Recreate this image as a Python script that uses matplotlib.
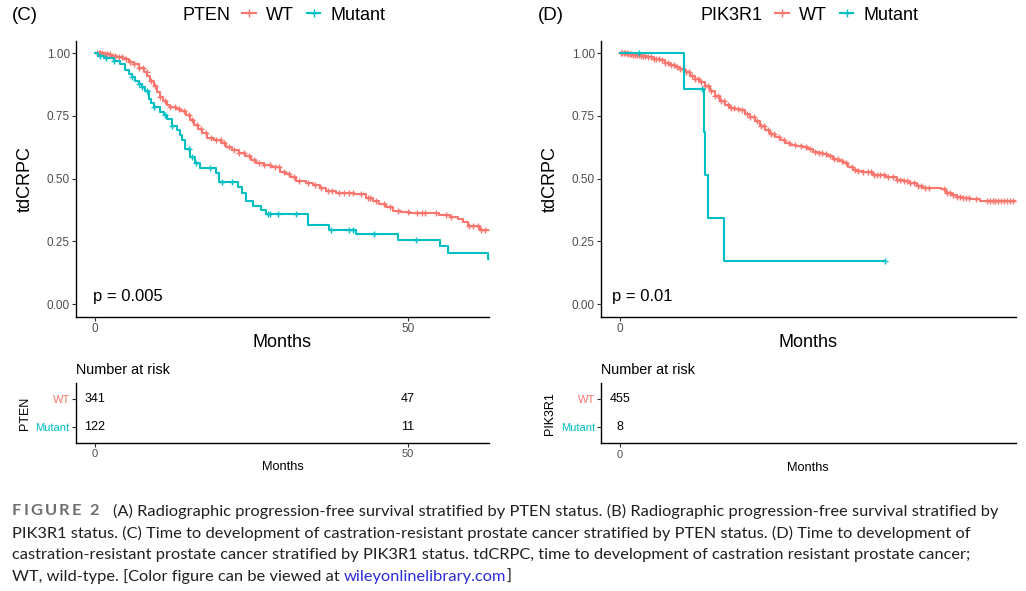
import numpy as np
import matplotlib
matplotlib.use('Agg')
import matplotlib.pyplot as plt
from matplotlib.lines import Line2D

plt.rcParams['font.family'] = ['Liberation Sans', 'DejaVu Sans']

RED = '#F8766D'
TEAL = '#00BFC4'

# ---------------- panel C : PTEN ----------------
c_wt_time = [0, 1.5, 2.5, 3.5, 4.5, 5.5, 6.2, 7.0, 7.8, 8.4, 8.9, 9.4, 9.9, 10.4, 10.9,
             11.5, 12.0, 13.0, 13.8, 14.5, 15.2, 15.8, 16.5, 17.2, 18.0, 19.0, 20.2, 21.0,
             22.0, 23.0, 24.0, 25.0, 25.8, 27.0, 28.2, 29.6, 30.5, 31.2, 32.2, 33.8, 34.9,
             36.0, 37.0, 38.6, 41.5, 43.4, 44.5, 45.5, 46.6, 47.6, 49.0, 50.3, 55.0, 56.7,
             58.0, 58.8, 59.6, 61.5]
c_wt_surv = [1.0, 0.996, 0.99, 0.984, 0.977, 0.967, 0.956, 0.942, 0.925, 0.91, 0.89, 0.868,
             0.845, 0.825, 0.808, 0.795, 0.786, 0.778, 0.768, 0.752, 0.735, 0.715, 0.698,
             0.684, 0.664, 0.654, 0.643, 0.628, 0.615, 0.602, 0.59, 0.575, 0.563, 0.554,
             0.545, 0.528, 0.518, 0.508, 0.49, 0.484, 0.475, 0.462, 0.452, 0.444, 0.441,
             0.424, 0.412, 0.4, 0.387, 0.373, 0.366, 0.362, 0.356, 0.347, 0.338, 0.328,
             0.312, 0.297]
c_wt_cens = [0.3, 0.6, 0.9, 1.2, 1.6, 2.0, 2.4, 2.8, 3.3, 3.9, 4.4, 5.0, 5.6, 6.3, 7.1, 7.7,
             8.3, 9.0, 9.6, 10.5, 11.3, 12.1, 12.8, 13.4, 14.2, 15.0, 15.6, 16.3, 17.0, 17.8,
             18.5, 19.3, 20.1, 20.6, 21.4, 22.3, 23.0, 23.8, 24.6, 25.4, 26.2, 27.1, 28.0,
             28.8, 29.5, 30.3, 31.0, 31.8, 32.6, 34.0, 35.2, 36.2, 37.2, 37.9, 39.0, 39.8,
             40.6, 41.2, 42.5, 43.6, 44.0, 45.0, 46.2, 47.2, 48.5, 50.0, 51.5, 52.3, 52.8,
             54.5, 56.2, 57.0, 59.8, 60.5, 61.2, 61.8, 62.4, 63.5]

c_mut_time = [0, 0.5, 1.5, 3.0, 4.0, 4.8, 5.4, 5.9, 6.5, 7.0, 7.5, 8.0, 8.6, 9.0, 9.4, 10.4,
              11.0, 11.5, 12.3, 13.1, 13.6, 13.9, 14.4, 15.2, 16.0, 16.8, 19.4, 19.9, 22.9,
              23.5, 24.1, 25.3, 26.5, 27.4, 34.1, 37.5, 41.8, 48.4, 55.1, 56.4, 62.8]
c_mut_surv = [1.0, 0.99, 0.983, 0.97, 0.956, 0.935, 0.918, 0.904, 0.89, 0.877, 0.864, 0.851,
              0.818, 0.80, 0.785, 0.765, 0.752, 0.739, 0.712, 0.693, 0.673, 0.653, 0.62,
              0.587, 0.561, 0.541, 0.521, 0.488, 0.467, 0.443, 0.41, 0.39, 0.377, 0.361,
              0.317, 0.297, 0.278, 0.255, 0.231, 0.205, 0.178]
c_mut_cens = [0.8, 1.8, 3.0, 5.9, 7.0, 7.6, 8.4, 9.4, 11.2, 12.3, 15.0, 15.6, 16.1, 18.4,
              20.3, 21.9, 27.7, 28.0, 29.3, 32.2, 37.8, 40.7, 41.2, 44.7, 51.4, 63.5]

c_risk_times = [0, 50]
c_risk_wt = [341, 47]
c_risk_mut = [122, 11]

# ---------------- panel D : PIK3R1 ----------------
d_wt_time = [0, 2.0, 3.5, 5.5, 7.1, 9.0, 10.6, 12.0, 13.3, 14.6, 15.9, 17.2, 18.6, 19.9, 21.2,
             22.5, 23.9, 25.2, 26.5, 27.8, 29.2, 30.5, 31.8, 33.2, 34.5, 35.8, 37.1, 38.5,
             39.8, 41.1, 42.4, 43.8, 45.1, 46.8, 48.6, 50.0, 51.3, 52.6, 53.9, 55.2, 56.6,
             57.9, 59.2, 60.5, 61.9, 63.2, 64.5, 67.2, 70.7, 73.4, 75.2, 76.9, 78.7, 80.5,
             85.3, 86.6, 88.0, 89.3, 91.0, 92.8, 95.5]
d_wt_surv = [1.0, 0.996, 0.992, 0.988, 0.985, 0.979, 0.972, 0.963, 0.954, 0.946, 0.937, 0.924,
             0.91, 0.897, 0.884, 0.868, 0.851, 0.831, 0.811, 0.795, 0.782, 0.777, 0.772,
             0.759, 0.745, 0.729, 0.712, 0.695, 0.679, 0.667, 0.656, 0.644, 0.633, 0.63,
             0.627, 0.617, 0.607, 0.602, 0.598, 0.589, 0.58, 0.571, 0.561, 0.547, 0.534,
             0.529, 0.525, 0.515, 0.508, 0.495, 0.489, 0.482, 0.472, 0.462, 0.458, 0.442,
             0.436, 0.429, 0.423, 0.418, 0.412]
d_wt_cens = [0.3, 0.7, 1.0, 1.4, 1.8, 2.2, 2.6, 3.0, 3.5, 4.0, 4.5, 5.0, 5.6, 6.2, 6.8, 7.5,
             8.2, 9.0, 9.7, 10.4, 11.2, 12.0, 12.7, 13.5, 14.3, 15.1, 16.0, 16.8, 17.6, 18.4,
             19.2, 20.0, 20.8, 21.6, 22.5, 23.4, 24.3, 25.2, 26.0, 26.8, 27.7, 28.6, 29.5,
             30.4, 31.3, 32.5, 33.6, 34.6, 35.5, 36.5, 37.4, 38.3, 39.2, 40.1, 41.0, 42.3,
             43.5, 44.8, 46.5, 48.0, 49.3, 50.5, 51.8, 52.8, 53.7, 54.8, 55.8, 56.7, 57.8,
             58.8, 60.0, 61.5, 62.5, 63.3, 64.6, 65.8, 66.5, 67.4, 68.2, 69.0, 70.0, 71.2,
             72.5, 73.5, 74.4, 75.3, 76.2, 77.0, 78.0, 79.2, 80.0, 81.0, 82.0, 86.0, 86.9,
             87.6, 88.3, 89.5, 90.2, 91.0, 91.8, 92.5, 94.5, 97.5, 98.2, 98.9, 99.6, 100.4,
             101.2, 102.0, 102.8, 103.6, 104.3, 106.0]

d_mut_time = [0, 17.0, 22.4, 22.7, 23.3, 27.7]
d_mut_surv = [1.0, 0.857, 0.686, 0.514, 0.343, 0.171]
d_mut_cens = [5.0, 21.7, 70.3]

d_risk_times = [0]
d_risk_wt = [455]
d_risk_mut = [8]

W, H = 1026, 591
fig = plt.figure(figsize=(W / 100, H / 100), dpi=100)
fig.patch.set_facecolor('white')


def box(l, t, r, b):
    return [l / W, 1 - b / H, (r - l) / W, (b - t) / H]


def style(ax):
    for s in ['top', 'right']:
        ax.spines[s].set_visible(False)
    for s in ['left', 'bottom']:
        ax.spines[s].set_linewidth(1.0)
        ax.spines[s].set_color('black')
    ax.tick_params(length=3, width=0.8, color='#333333', labelcolor='#4D4D4D',
                   labelsize=8.5, pad=1.5)


def km_curve(ax, times, surv, cens, color):
    t = np.array(times)
    s = np.array(surv)
    c = np.array(cens)
    end = max(t[-1], c.max())
    ax.step(np.append(t, end), np.append(s, s[-1]), where='post', color=color, lw=1.5)
    idx = np.searchsorted(t, c, side='right') - 1
    ax.plot(c, s[idx], ls='none', marker='+', color=color, ms=5, mew=1.0)


def panel(main_box, tab_box, wt, mut, xlim, xticks, gene, label, label_x,
          pval, pval_x, risk_times, risk_wt, risk_mut, leg_x):
    ax = fig.add_axes(box(*main_box))
    km_curve(ax, *wt, RED)
    km_curve(ax, *mut, TEAL)
    ax.set_xlim(xlim)
    ax.set_ylim(-0.05, 1.05)
    ax.set_xticks(xticks)
    ax.set_yticks([0, 0.25, 0.5, 0.75, 1.0])
    ax.set_yticklabels(['0.00', '0.25', '0.50', '0.75', '1.00'])
    style(ax)
    ax.set_ylabel('tdCRPC', fontsize=13, va='center')
    ax.yaxis.set_label_coords(-0.122, 0.5)
    ax.set_xlabel('Months', fontsize=13, va='center')
    ax.xaxis.set_label_coords(0.5, -0.095)
    ax.text(pval_x, 0.075, pval, transform=ax.transAxes, fontsize=12, va='center')

    tab = fig.add_axes(box(*tab_box))
    tab.set_xlim(xlim)
    tab.set_ylim(0.43, 2.57)
    tab.set_xticks(xticks)
    tab.set_yticks([1, 2])
    tab.set_yticklabels(['Mutant', 'WT'])
    style(tab)
    tab.tick_params(labelsize=8)
    for lab, col in zip(tab.get_yticklabels(), [TEAL, RED]):
        lab.set_color(col)
    for t, a, b in zip(risk_times, risk_wt, risk_mut):
        tab.text(t, 2, str(a), ha='center', va='center', fontsize=9)
        tab.text(t, 1, str(b), ha='center', va='center', fontsize=9)
    tab.set_ylabel(gene, fontsize=9, va='center')
    tab.yaxis.set_label_coords(-0.124, 0.5)
    tab.set_xlabel('Months', fontsize=9.2, va='center')
    tab.xaxis.set_label_coords(0.5, -0.404)
    tab.text(0.0, 1.224, 'Number at risk', transform=tab.transAxes, fontsize=10.4,
             va='center')

    yc = 1 - 15 / H
    fig.text(label_x / W, yc, label, fontsize=13.5, va='center')
    fig.text(leg_x[0] / W, yc, gene, fontsize=13, va='center')
    handles = [Line2D([], [], color=RED, lw=1.5, marker='+', ms=6, mew=1.0),
               Line2D([], [], color=TEAL, lw=1.5, marker='+', ms=6, mew=1.0)]
    fig.legend(handles, ['WT', 'Mutant'], loc='center left',
               bbox_to_anchor=(leg_x[1] / W, yc), ncol=2, frameon=False, fontsize=13,
               handlelength=0.75, handletextpad=0.55, columnspacing=0.75,
               borderpad=0, borderaxespad=0)


panel((76, 40.7, 489, 316.7), (76, 383.3, 489, 442.7),
      (c_wt_time, c_wt_surv, c_wt_cens), (c_mut_time, c_mut_surv, c_mut_cens),
      (-3, 63), [0, 50], 'PTEN', '(C)', 12, 'p = 0.005', 0.040,
      c_risk_times, c_risk_wt, c_risk_mut, (182, 242))
panel((601, 40.7, 1015.7, 316.7), (601, 383.3, 1015.7, 443.3),
      (d_wt_time, d_wt_surv, d_wt_cens), (d_mut_time, d_mut_surv, d_mut_cens),
      (-5, 105), [0], 'PIK3R1', '(D)', 538, 'p = 0.01', 0.026,
      d_risk_times, d_risk_wt, d_risk_mut, (700, 775))

# ---------------- caption ----------------
cap_font = ['Lato', 'DejaVu Sans']
line1 = ('(A) Radiographic progression-free survival stratified by PTEN status. '
         '(B) Radiographic progression-free survival stratified by')
line2 = ('PIK3R1 status. (C) Time to development of castration-resistant prostate cancer '
         'stratified by PTEN status. (D) Time to development of')
line3 = ('castration-resistant prostate cancer stratified by PIK3R1 status. tdCRPC, time to '
         'development of castration resistant prostate cancer;')
line4 = ['WT, wild-type. [Color figure can be viewed at ', 'wileyonlinelibrary.com', ']']

fig.canvas.draw()
rend = fig.canvas.get_renderer()

probe = fig.text(0, 0, line2, fontsize=11, family=cap_font)
w = probe.get_window_extent(rend).width
probe.remove()
fs = 11 * (963 - 12) / w

ys = [511, 533, 555, 577]
ink = '#231F20'

# letter-spaced bold label
x = 12
for ch in 'FIGURE 2':
    t = fig.text(x / W, 1 - ys[0] / H, ch, fontsize=fs, family=cap_font, weight='bold',
                 color='#6D6E71', va='center')
    x += t.get_window_extent(rend).width + 2.2

fig.text(113 / W, 1 - ys[0] / H, line1, fontsize=fs, family=cap_font, color=ink, va='center')
fig.text(12 / W, 1 - ys[1] / H, line2, fontsize=fs, family=cap_font, color=ink, va='center')
fig.text(12 / W, 1 - ys[2] / H, line3, fontsize=fs, family=cap_font, color=ink, va='center')
x = 12
for part, col in zip(line4, [ink, '#2B2BD9', ink]):
    t = fig.text(x / W, 1 - ys[3] / H, part, fontsize=fs, family=cap_font, color=col,
                 va='center')
    x += t.get_window_extent(rend).width

fig.savefig('out.png', dpi=100, facecolor='white')
